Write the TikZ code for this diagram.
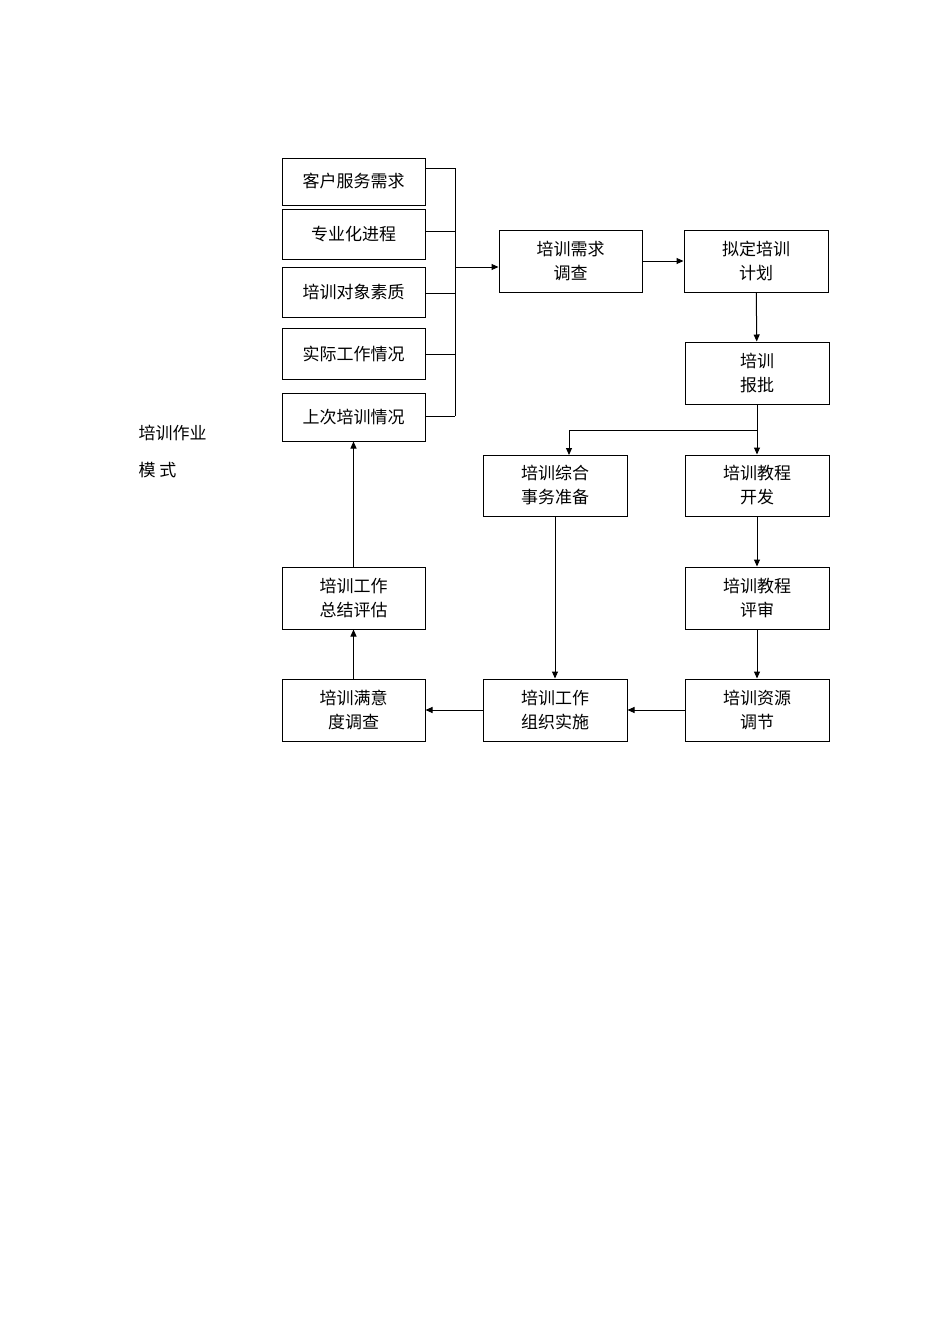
\documentclass[tikz,border=0pt]{standalone}
\usepackage{fontspec}
\setmainfont{Noto Sans CJK SC}
\usetikzlibrary{arrows.meta}
\begin{document}
\begin{tikzpicture}[x=1pt,y=-1pt,
  bx/.style={draw,line width=1pt,inner sep=0pt,align=center,font=\fontsize{17}{24}\selectfont},
  ar/.style={line width=1pt,-{Triangle[length=7pt,width=6pt]}},
  ln/.style={line width=1pt}]
\useasboundingbox (0,0) rectangle (950,1344);
\newcommand\bxat[6]{\node[bx,minimum width=#3-#1,minimum height=#4-#2] (#5) at ({(#1+#3)/2},{(#2+#4)/2}) {#6};}
\bxat{282}{158}{425}{205}{a1}{客户服务需求}
\bxat{282}{209}{425}{259}{a2}{专业化进程}
\bxat{282}{267}{425}{317}{a3}{培训对象素质}
\bxat{282}{328}{425}{379}{a4}{实际工作情况}
\bxat{282}{393}{425}{441}{a5}{上次培训情况}
\bxat{499}{230}{642}{292}{b1}{培训需求\\调查}
\bxat{684}{230}{828}{292}{b2}{拟定培训\\计划}
\bxat{685}{342}{829}{404}{b3}{培训\\报批}
\bxat{483}{455}{627}{516}{c1}{培训综合\\事务准备}
\bxat{685}{455}{829}{516}{c2}{培训教程\\开发}
\bxat{685}{567}{829}{629}{d2}{培训教程\\评审}
\bxat{685}{679}{829}{741}{e3}{培训资源\\调节}
\bxat{483}{679}{627}{741}{e2}{培训工作\\组织实施}
\bxat{282}{679}{425}{741}{e1}{培训满意\\度调查}
\bxat{282}{567}{425}{629}{d1}{培训工作\\总结评估}
\coordinate (j) at (455,267);
\foreach \n/\y in {a1/168,a2/231,a3/293,a4/354,a5/416}
  \draw[ln] (\n.east |- 0,\y) -- (455,\y);
\draw[ln] (455,168) -- (455,416);
\draw[ar] (j) -- (b1.west |- j);
\draw[ar] (b1) -- (b2);
\draw[ar] (b2) -- (b3);
\coordinate (s) at (757,430);
\draw[ln] (b3.south -| s) -- (s);
\draw[ar] (s) -- (c2.north -| s);
\draw[ar] (s) -| (569,455);
\draw[ar] (c2) -- (d2);
\draw[ar] (d2) -- (e3);
\draw[ar] (e3) -- (e2);
\draw[ar] (e2) -- (e1);
\draw[ar] (e1) -- (d1);
\draw[ar] (d1) -- (a5);
\draw[ar] (c1.south -| 555,0) -- (e2.north -| 555,0);
\node[anchor=west,font=\fontsize{17}{20}\selectfont] (t1) at (135,433) {培训作业};
\node[anchor=west,font=\fontsize{17}{20}\selectfont] (t2) at (135,470) {模\ 式};
\end{tikzpicture}
\end{document}
